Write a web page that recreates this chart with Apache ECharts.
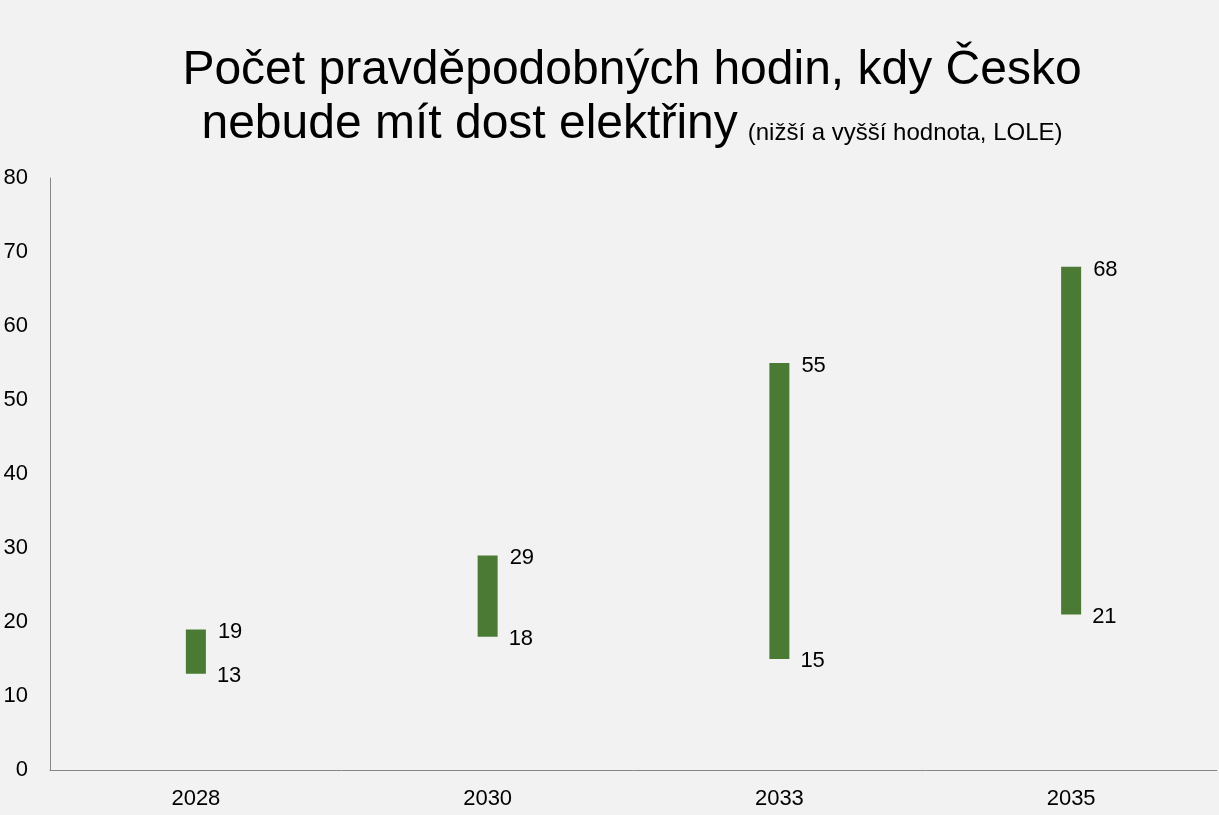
<!DOCTYPE html>
<html>
<head>
<meta charset="utf-8">
<script src="https://cdn.jsdelivr.net/npm/echarts@6/dist/echarts.min.js"></script>
<style>
html,body{margin:0;padding:0;background:#f2f2f2;}
#c{width:1219px;height:815px;}
</style>
</head>
<body>
<div id="c"></div>
<script>
const categories = ['2028', '2030', '2033', '2035'];
const lowValues = [13, 18, 15, 21];
const highValues = [19, 29, 55, 68];
const yTicks = [0, 10, 20, 30, 40, 50, 60, 70, 80];

const rangeValues = highValues.map((h, i) => h - lowValues[i]);
const font = '"Liberation Sans", Arial, sans-serif';

const chart = echarts.init(document.getElementById('c'));
chart.setOption({
  backgroundColor: '#f2f2f2',
  animation: false,
  title: {
    left: 632,
    top: 44,
    padding: 0,
    textAlign: 'center',
    text: '{big|Počet pravděpodobných hodin, kdy Česko}\n{big|nebude mít dost elektřiny}  {small|(nižší a vyšší hodnota, LOLE)}',
    textStyle: {
      fontFamily: font,
      fontWeight: 'normal',
      color: '#000',
      lineHeight: 54,
      rich: {
        big: { fontSize: 48, fontFamily: font, fontWeight: 'normal', color: '#000', lineHeight: 54 },
        small: { fontSize: 24, fontFamily: font, fontWeight: 'normal', color: '#000', lineHeight: 24, verticalAlign: 'bottom', padding: [0, 0, 7, 0] }
      }
    }
  },
  grid: { left: 50, right: 2, top: 178, bottom: 45, containLabel: false },
  xAxis: {
    type: 'category',
    data: categories,
    axisLine: { show: true, lineStyle: { color: '#868686', width: 1 } },
    axisTick: { show: false },
    axisLabel: { fontFamily: font, fontSize: 22, color: '#000', margin: 18 }
  },
  yAxis: {
    type: 'value',
    min: yTicks[0],
    max: yTicks[yTicks.length - 1],
    interval: 10,
    axisLine: { show: true, lineStyle: { color: '#868686', width: 1 } },
    axisTick: { show: false },
    splitLine: { show: false },
    axisLabel: { fontFamily: font, fontSize: 22, color: '#000', margin: 22 }
  },
  series: [
    {
      type: 'bar',
      stack: 'r',
      data: lowValues,
      barWidth: 20,
      itemStyle: { color: 'transparent' },
      label: {
        show: true,
        position: [31, 0],
        align: 'left',
        verticalAlign: 'middle',
        offset: [0, 2],
        fontFamily: font,
        fontSize: 22,
        color: '#000',
        formatter: p => lowValues[p.dataIndex]
      },
      silent: true
    },
    {
      type: 'bar',
      stack: 'r',
      data: rangeValues,
      barWidth: 20,
      itemStyle: { color: '#4a7a33' },
      label: {
        show: true,
        position: [32, 0],
        align: 'left',
        verticalAlign: 'middle',
        offset: [0, 3],
        fontFamily: font,
        fontSize: 22,
        color: '#000',
        formatter: p => highValues[p.dataIndex]
      }
    }
  ]
});
</script>
</body>
</html>
